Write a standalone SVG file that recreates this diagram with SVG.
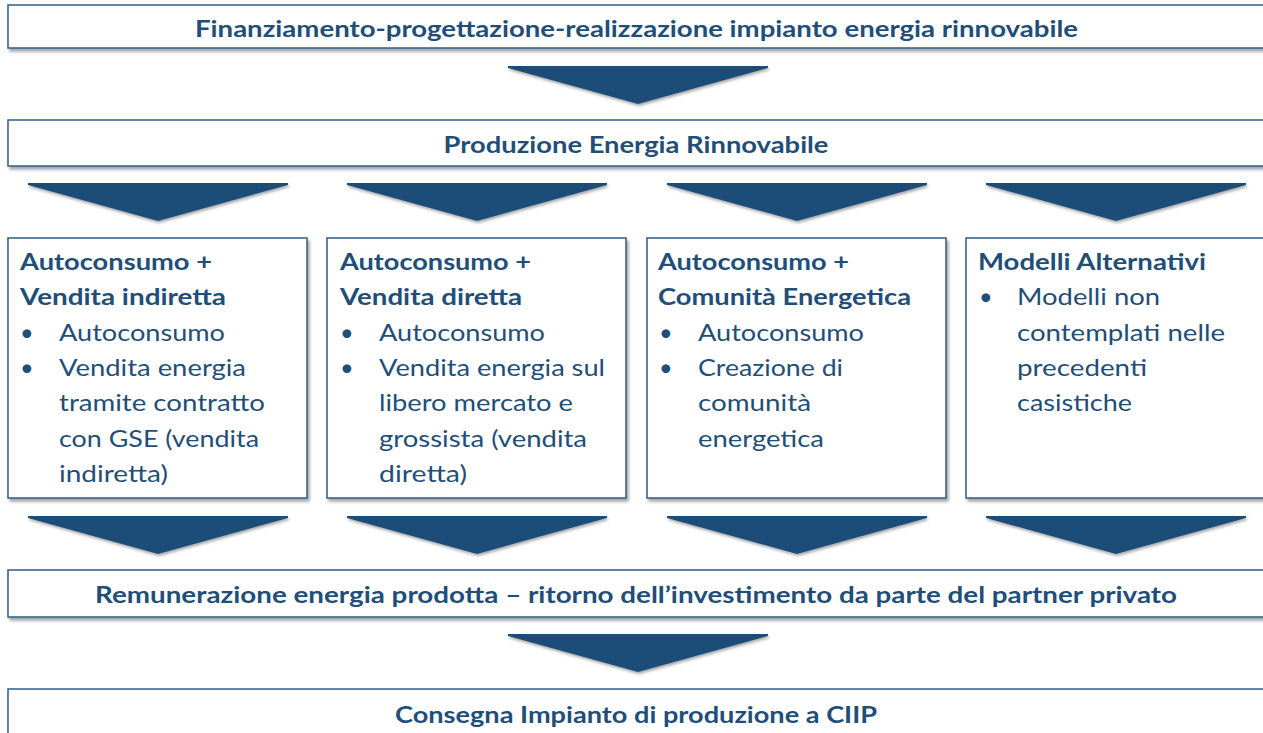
<svg xmlns="http://www.w3.org/2000/svg" width="1263" height="733" viewBox="0 0 1263 733">
<defs>
<filter id="sh" x="-5%" y="-20%" width="110%" height="150%">
<feDropShadow dx="2" dy="3" stdDeviation="1.8" flood-color="#000" flood-opacity="0.35"/>
</filter>
<filter id="sha" x="-5%" y="-20%" width="110%" height="150%">
<feDropShadow dx="1" dy="2" stdDeviation="1.5" flood-color="#000" flood-opacity="0.35"/>
</filter>
<path id="arr" d="M0,0 L260,0 L260,2 L130,38 L0,2 Z"/>
</defs>
<style>
.box{fill:#fff;stroke:#2F5B88;stroke-width:1.5;filter:url(#sh)}
.ar{fill:#1F4E79;filter:url(#sha)}
text{font-family:Lato,"Open Sans","Liberation Sans",sans-serif;fill:#1F4E79;font-size:23.5px}
.b{font-weight:bold}
.t{text-anchor:middle}
</style>
<rect width="1263" height="733" fill="#fff"/>
<g id="connectors">
<use href="#arr" class="ar" x="508" y="66"/>
<use href="#arr" class="ar" x="28" y="183"/>
<use href="#arr" class="ar" x="347" y="183"/>
<use href="#arr" class="ar" x="667" y="183"/>
<use href="#arr" class="ar" x="986" y="183"/>
<use href="#arr" class="ar" x="28" y="516"/>
<use href="#arr" class="ar" x="347" y="516"/>
<use href="#arr" class="ar" x="667" y="516"/>
<use href="#arr" class="ar" x="986" y="516"/>
<use href="#arr" class="ar" x="508" y="634"/>
</g>
<g id="n1">
<rect class="box" x="8" y="5" width="1265" height="43"/>
<text class="b t" x="636.5" y="37" textLength="883" lengthAdjust="spacingAndGlyphs">Finanziamento-progettazione-realizzazione impianto energia rinnovabile</text>
</g>
<g id="n2">
<rect class="box" x="8" y="120" width="1265" height="46"/>
<text class="b t" x="636" y="153" textLength="385" lengthAdjust="spacingAndGlyphs">Produzione Energia Rinnovabile</text>
</g>
<g id="c1">
<rect class="box" x="8" y="238" width="299" height="260"/>
<text class="b" x="20" y="270" textLength="192" lengthAdjust="spacingAndGlyphs">Autoconsumo +</text>
<text class="b" x="20" y="305.3" textLength="206" lengthAdjust="spacingAndGlyphs">Vendita indiretta</text>
<text x="20" y="340.6">•</text>
<text x="59" y="340.6" textLength="166" lengthAdjust="spacingAndGlyphs">Autoconsumo</text>
<text x="20" y="375.9">•</text>
<text x="59" y="375.9" textLength="187" lengthAdjust="spacingAndGlyphs">Vendita energia</text>
<text x="59" y="411.2" textLength="206" lengthAdjust="spacingAndGlyphs">tramite contratto</text>
<text x="59" y="446.5" textLength="200" lengthAdjust="spacingAndGlyphs">con GSE (vendita</text>
<text x="59" y="481.8" textLength="109" lengthAdjust="spacingAndGlyphs">indiretta)</text>
</g>
<g id="c2">
<rect class="box" x="327" y="238" width="299" height="260"/>
<text class="b" x="340" y="270" textLength="191" lengthAdjust="spacingAndGlyphs">Autoconsumo +</text>
<text class="b" x="340" y="305.3" textLength="182" lengthAdjust="spacingAndGlyphs">Vendita diretta</text>
<text x="340" y="340.6">•</text>
<text x="379" y="340.6" textLength="166" lengthAdjust="spacingAndGlyphs">Autoconsumo</text>
<text x="340" y="375.9">•</text>
<text x="379" y="375.9" textLength="226" lengthAdjust="spacingAndGlyphs">Vendita energia sul</text>
<text x="379" y="411.2" textLength="194" lengthAdjust="spacingAndGlyphs">libero mercato e</text>
<text x="379" y="446.5" textLength="208" lengthAdjust="spacingAndGlyphs">grossista (vendita</text>
<text x="379" y="481.8" textLength="88" lengthAdjust="spacingAndGlyphs">diretta)</text>
</g>
<g id="c3">
<rect class="box" x="647" y="238" width="299" height="260"/>
<text class="b" x="658" y="270" textLength="191" lengthAdjust="spacingAndGlyphs">Autoconsumo +</text>
<text class="b" x="658" y="305.3" textLength="253" lengthAdjust="spacingAndGlyphs">Comunità Energetica</text>
<text x="659" y="340.6">•</text>
<text x="698" y="340.6" textLength="166" lengthAdjust="spacingAndGlyphs">Autoconsumo</text>
<text x="659" y="375.9">•</text>
<text x="698" y="375.9" textLength="145" lengthAdjust="spacingAndGlyphs">Creazione di</text>
<text x="698" y="411.2" textLength="113" lengthAdjust="spacingAndGlyphs">comunità</text>
<text x="698" y="446.5" textLength="126" lengthAdjust="spacingAndGlyphs">energetica</text>
</g>
<g id="c4">
<rect class="box" x="966" y="238" width="305" height="260"/>
<text class="b" x="978" y="270" textLength="228" lengthAdjust="spacingAndGlyphs">Modelli Alternativi</text>
<text x="979" y="305.3">•</text>
<text x="1017" y="305.3" textLength="143" lengthAdjust="spacingAndGlyphs">Modelli non</text>
<text x="1017" y="340.6" textLength="208" lengthAdjust="spacingAndGlyphs">contemplati nelle</text>
<text x="1017" y="375.9" textLength="130" lengthAdjust="spacingAndGlyphs">precedenti</text>
<text x="1017" y="411.2" textLength="115" lengthAdjust="spacingAndGlyphs">casistiche</text>
</g>
<g id="n3">
<rect class="box" x="8" y="570" width="1265" height="47"/>
<text class="b t" x="636" y="603" textLength="1082" lengthAdjust="spacingAndGlyphs">Remunerazione energia prodotta – ritorno dell’investimento da parte del partner privato</text>
</g>
<g id="n4">
<rect class="box" x="8" y="689" width="1265" height="60"/>
<text class="b t" x="636" y="723" textLength="482" lengthAdjust="spacingAndGlyphs">Consegna Impianto di produzione a CIIP</text>
</g>
</svg>
